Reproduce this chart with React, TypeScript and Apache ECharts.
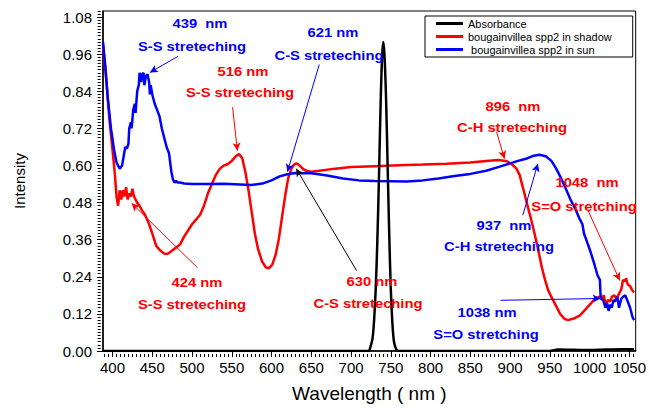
import React, { useEffect, useRef } from "react";
import * as echarts from "echarts";

// ---- data (wavelength nm, intensity) ----
const absorbanceX = [388, 700, 722, 724, 727, 729, 731, 733, 735, 737, 739, 740.5, 742, 744, 746, 748, 750, 752, 754, 757, 760, 950, 960, 1000, 1040, 1056];
const absorbanceY = [0, 0, 0, 0.01, 0.04, 0.1, 0.2, 0.35, 0.55, 0.78, 0.95, 1.0, 0.96, 0.82, 0.6, 0.38, 0.2, 0.09, 0.03, 0.005, 0, 0, 0.005, 0.003, 0.006, 0.006];

const shadowX = [388, 392, 396, 400, 403, 405, 407, 409, 411, 413, 415, 417, 419, 421, 423, 425, 427, 429, 431, 434, 437, 441, 446, 450, 455, 460, 465, 470, 475, 480, 485, 490, 495, 500, 505, 510, 515, 520, 525, 530, 535, 540, 545, 550, 555, 559, 563, 567, 571, 575, 579, 583, 588, 593, 597, 601, 605, 609, 613, 617, 621, 625, 629, 632, 636, 640, 645, 650, 660, 680, 700, 730, 760, 790, 820, 850, 870, 885, 895, 902, 908, 912, 916, 920, 924, 928, 932, 936, 940, 944, 948, 953, 958, 963, 968, 973, 980, 988, 995, 1002, 1007, 1012, 1015, 1018, 1020, 1023, 1026, 1028, 1031, 1034, 1037, 1040, 1042, 1044, 1046, 1048, 1051, 1054, 1056];
const shadowY = [0.99, 0.88, 0.75, 0.65, 0.57, 0.5, 0.47, 0.52, 0.49, 0.52, 0.5, 0.53, 0.49, 0.51, 0.5, 0.525, 0.5, 0.49, 0.48, 0.47, 0.455, 0.44, 0.41, 0.38, 0.34, 0.325, 0.315, 0.315, 0.325, 0.335, 0.345, 0.37, 0.39, 0.41, 0.425, 0.44, 0.47, 0.51, 0.54, 0.57, 0.59, 0.6, 0.605, 0.615, 0.63, 0.637, 0.625, 0.58, 0.52, 0.45, 0.38, 0.33, 0.29, 0.27, 0.268, 0.28, 0.31, 0.36, 0.43, 0.5, 0.56, 0.59, 0.605, 0.607, 0.598, 0.588, 0.582, 0.58, 0.583, 0.59, 0.595, 0.598, 0.601, 0.603, 0.606, 0.61, 0.615, 0.618, 0.615, 0.605, 0.59, 0.57, 0.53, 0.49, 0.45, 0.41, 0.366, 0.32, 0.27, 0.23, 0.196, 0.17, 0.145, 0.12, 0.105, 0.1, 0.105, 0.115, 0.135, 0.155, 0.17, 0.175, 0.17, 0.18, 0.15, 0.165, 0.16, 0.175, 0.18, 0.17, 0.185, 0.2, 0.23, 0.225, 0.235, 0.215, 0.21, 0.195, 0.19];

const sunX = [388, 391, 394, 398, 402, 405, 409, 412, 414, 416, 418, 420, 421, 423, 424, 426, 428, 429, 431, 433, 434, 436, 437, 439, 440, 442, 444, 446, 447, 448, 450, 453, 456, 459, 462, 465, 468, 471, 474, 476, 478, 480, 482, 485, 490, 500, 520, 540, 560, 575, 590, 600, 610, 620, 630, 650, 670, 690, 710, 730, 750, 770, 790, 810, 830, 850, 870, 885, 900, 910, 920, 930, 937, 945, 952, 958, 964, 970, 976, 982, 987, 991, 993, 995, 1000, 1005, 1010, 1013, 1014, 1017, 1020, 1022, 1024, 1026, 1028, 1030, 1032, 1035, 1037, 1040, 1042, 1045, 1048, 1051, 1054, 1056];
const sunY = [1.0, 0.92, 0.82, 0.72, 0.65, 0.61, 0.59, 0.6, 0.63, 0.66, 0.655, 0.67, 0.72, 0.74, 0.72, 0.78, 0.8, 0.77, 0.84, 0.86, 0.9, 0.87, 0.895, 0.9, 0.86, 0.89, 0.895, 0.87, 0.83, 0.86, 0.83, 0.8, 0.78, 0.76, 0.72, 0.69, 0.66, 0.64, 0.58, 0.555, 0.545, 0.55, 0.545, 0.545, 0.542, 0.54, 0.54, 0.541, 0.539, 0.537, 0.543, 0.552, 0.565, 0.572, 0.576, 0.575, 0.568, 0.558, 0.552, 0.55, 0.549, 0.548, 0.552, 0.558, 0.566, 0.573, 0.583, 0.595, 0.607, 0.615, 0.622, 0.632, 0.635, 0.63, 0.615, 0.59, 0.56, 0.526, 0.49, 0.46, 0.43, 0.41, 0.38, 0.366, 0.33, 0.29, 0.245, 0.23, 0.17, 0.165, 0.14, 0.155, 0.13, 0.15, 0.14, 0.165, 0.16, 0.175, 0.14, 0.17, 0.175, 0.18, 0.16, 0.14, 0.11, 0.1];

const xTickLabels = [400, 450, 500, 550, 600, 650, 700, 750, 800, 850, 900, 950, 1000, 1050];
const yTickLabels = [0, 0.12, 0.24, 0.36, 0.48, 0.6, 0.72, 0.84, 0.96, 1.08];

const seriesNames = ["Absorbance", "bougainvillea spp2 in shadow", " bougainvillea spp2 in sun"];

const RED = "#ff0000";
const BLUE = "#0000ff";
const BLACK = "#000000";

// annotations: [text, color, cx, cy]
const annotationTexts: [string, string, number, number][] = [
  ["439  nm", BLUE, 200, 24],
  ["S-S streteching", BLUE, 192, 47],
  ["621 nm", BLUE, 333, 33],
  ["C-S streteching", BLUE, 329, 56],
  ["516 nm", RED, 243, 72],
  ["S-S streteching", RED, 240, 93],
  ["424 nm", RED, 197, 283],
  ["S-S streteching", RED, 192, 305],
  ["630 nm", RED, 372, 282],
  ["C-S streteching", RED, 368, 304],
  ["896  nm", RED, 513, 107],
  ["C-H streteching", RED, 512, 128],
  ["1048  nm", RED, 587, 183],
  ["S=O stretching", RED, 584, 207],
  ["937  nm", BLUE, 504, 226],
  ["C-H streteching", BLUE, 499, 247],
  ["1038 nm", BLUE, 487, 313],
  ["S=O stretching", BLUE, 486, 335],
];

// arrows in data coordinates: [from, to]
const redArrows: [number[], number[]][] = [
  [[551, 0.789], [557, 0.648]],
  [[507, 0.269], [424, 0.478]],
  [[883, 0.709], [893, 0.622]],
  [[998, 0.455], [1038, 0.228]],
];
const blueArrows: [number[], number[]][] = [
  [[482, 0.953], [447, 0.901]],
  [[660, 0.927], [620, 0.58]],
  [[916, 0.439], [935, 0.606]],
  [[888, 0.164], [1014, 0.17]],
];
const blackArrows: [number[], number[]][] = [[[707, 0.26], [631, 0.59]]];

const zip = (xs: number[], ys: number[]) => xs.map((x, i) => [x, ys[i]]);

const minorX: number[] = [];
for (let v = 390; v <= 1055; v += 5) minorX.push(v);
const minorY: number[] = [];
for (let i = 0; i <= 110; i++) minorY.push(i / 100);

const FONT = "'Liberation Sans', Arial, sans-serif";

const GRID = { left: 103, right: 11, top: 11, bottom: 54 };
const W = 649;
const H = 408;

function arrowMark(arrows: [number[], number[]][], color: string) {
  return {
    silent: true,
    symbol: ["none", "arrow"],
    symbolSize: [6, 8],
    label: { show: false },
    lineStyle: { color, width: 1, type: "solid" },
    emphasis: { disabled: true },
    data: arrows.map(([a, b]) => [{ coord: a }, { coord: b }]),
  };
}

export default function App() {
  const ref = useRef<HTMLDivElement>(null);
  useEffect(() => {
    if (!ref.current) return;
    const chart = echarts.init(ref.current, undefined, { renderer: "svg" });
    const xMin = 388;
    const xMax = 1058;
    const plotH = H - GRID.top - GRID.bottom;
    const plotW = W - GRID.left - GRID.right;
    const option: any = {
      animation: false,
      backgroundColor: "#ffffff",
      grid: {
        ...GRID,
        show: true,
        borderColor: "#000",
        borderWidth: 1,
        backgroundColor: "transparent",
      },
      legend: {
        orient: "vertical",
        left: 425,
        top: 16,
        padding: [2, 21, 2, 11],
        itemGap: 2,
        itemWidth: 27,
        itemHeight: 3,
        icon: "rect",
        borderColor: "#000",
        borderWidth: 1,
        textStyle: { fontFamily: FONT, fontSize: 11, color: "#000" },
        data: seriesNames,
      },
      xAxis: [
        {
          type: "value",
          min: xMin,
          max: xMax,
          position: "bottom",
          splitLine: { show: false },
          axisLine: { show: true, lineStyle: { color: "#000", width: 1.5 } },
          axisTick: { show: true, customValues: xTickLabels, length: 5, lineStyle: { color: "#000", width: 1 } },
          axisLabel: {
            customValues: xTickLabels,
            formatter: (v: number) => String(v),
            fontFamily: FONT,
            fontSize: 15,
            color: "#000",
            margin: 9,
          },
          name: "Wavelength ( nm )",
          nameLocation: "middle",
          nameGap: 33,
          nameTextStyle: { fontFamily: FONT, fontSize: 19, color: "#000" },
        },
        {
          // minor ticks: placed on top slot, shifted down onto the bottom axis line
          type: "value",
          min: xMin,
          max: xMax,
          position: "top",
          offset: -plotH,
          gridIndex: 0,
          splitLine: { show: false },
          axisLine: { show: false },
          axisTick: { show: true, inside: true, customValues: minorX, length: 3, lineStyle: { color: "#000", width: 1 } },
          axisLabel: { show: false },
        },
      ],
      yAxis: [
        {
          type: "value",
          min: 0,
          max: 1.1,
          position: "left",
          splitLine: { show: false },
          axisLine: { show: true, lineStyle: { color: "#000", width: 1.5 } },
          axisTick: { show: true, customValues: yTickLabels, length: 6, lineStyle: { color: "#000", width: 1 } },
          axisLabel: {
            customValues: yTickLabels,
            formatter: (v: number) => v.toFixed(2),
            fontFamily: FONT,
            fontSize: 15,
            color: "#000",
            margin: 11,
          },
          name: "Intensity",
          nameLocation: "middle",
          nameGap: 76,
          nameTextStyle: { fontFamily: FONT, fontSize: 15, color: "#000" },
        },
        {
          type: "value",
          min: 0,
          max: 1.1,
          position: "right",
          offset: -plotW,
          gridIndex: 0,
          splitLine: { show: false },
          axisLine: { show: false },
          axisTick: { show: true, inside: true, customValues: minorY, length: 3, lineStyle: { color: "#000", width: 1 } },
          axisLabel: { show: false },
        },
      ],
      series: [
        {
          name: seriesNames[0],
          type: "line",
          xAxisIndex: 0,
          yAxisIndex: 0,
          data: zip(absorbanceX, absorbanceY),
          showSymbol: false,
          symbol: "none",
          smooth: 0.3,
          itemStyle: { color: BLACK },
          lineStyle: { color: BLACK, width: 2.5 },
          markLine: arrowMark(blackArrows, BLACK),
          z: 3,
        },
        {
          name: seriesNames[1],
          type: "line",
          xAxisIndex: 0,
          yAxisIndex: 0,
          data: zip(shadowX, shadowY),
          showSymbol: false,
          symbol: "none",
          itemStyle: { color: RED },
          lineStyle: { color: RED, width: 2.5 },
          markLine: arrowMark(redArrows, RED),
          z: 2,
        },
        {
          name: seriesNames[2],
          type: "line",
          xAxisIndex: 0,
          yAxisIndex: 0,
          data: zip(sunX, sunY),
          showSymbol: false,
          symbol: "none",
          itemStyle: { color: BLUE },
          lineStyle: { color: BLUE, width: 2.5 },
          markLine: arrowMark(blueArrows, BLUE),
          z: 2,
        },
      ],
      graphic: annotationTexts.map(([text, color, cx, cy]) => ({
        type: "text",
        x: cx,
        y: cy,
        scaleX: 1.23,
        silent: true,
        z: 10,
        style: {
          text,
          fill: color,
          font: `bold 12px ${FONT}`,
          textAlign: "center",
          textVerticalAlign: "middle",
        },
      })),
    };
    chart.setOption(option);
    return () => chart.dispose();
  }, []);
  return (
    <div
      ref={ref}
      style={{ position: "fixed", left: 0, top: 0, width: W, height: H, background: "#fff" }}
    />
  );
}
